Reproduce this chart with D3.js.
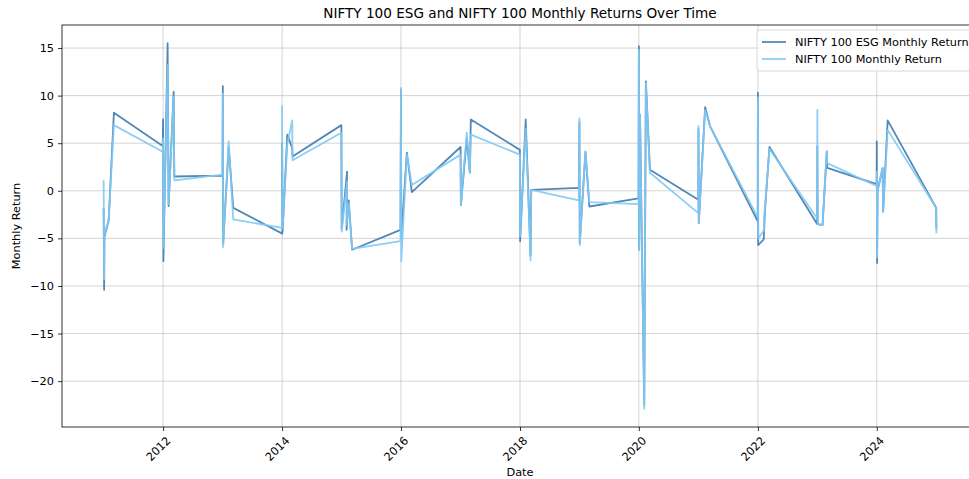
<!DOCTYPE html>
<html>
<head>
<meta charset="utf-8">
<script src="https://cdn.jsdelivr.net/npm/d3@7"></script>
<style>
  body { margin: 0; background: #fff; }
  svg { display: block; font-family: 'DejaVu Sans', sans-serif; }
</style>
</head>
<body>
<svg id="chart"></svg>
<script>
// monthly return rows, in the order they appear in the source table
const dates = [
  '2011-01-01', '2011-01-04', '2011-01-06', '2011-02-01', '2011-03-05', '2011-12-30',
  '2012-01-01', '2012-01-03', '2012-01-29', '2012-02-04', '2012-03-06', '2012-03-10', '2012-12-31',
  '2013-01-02', '2013-01-04', '2013-02-07', '2013-03-07', '2014-01-02',
  '2014-01-01', '2014-01-04', '2014-02-02', '2014-03-04', '2014-03-06', '2014-12-31',
  '2015-01-02', '2015-02-04', '2015-02-01', '2015-02-14', '2015-03-07', '2015-12-29',
  '2016-01-01', '2016-01-03', '2016-02-06', '2016-03-08', '2017-01-01',
  '2017-01-03', '2017-02-08', '2017-02-27', '2017-03-05', '2017-12-31',
  '2018-01-02', '2018-02-05', '2018-03-07', '2018-03-11', '2018-12-28',
  '2019-01-01', '2019-01-03', '2019-02-07', '2019-03-03', '2019-12-30',
  '2020-01-01', '2020-01-03', '2020-01-08', '2020-02-03', '2020-02-13', '2020-03-09', '2020-12-31',
  '2021-01-01', '2021-01-03', '2021-02-11', '2021-03-13', '2021-12-31',
  '2022-01-01', '2022-01-03', '2022-02-06', '2022-02-12', '2022-03-13', '2022-12-31',
  '2023-01-01', '2023-01-03', '2023-02-02', '2023-02-28', '2023-03-03', '2023-12-31',
  '2024-01-01', '2024-01-03', '2024-01-06', '2024-02-06', '2024-02-09', '2024-03-08', '2024-12-31', '2025-01-01'
]
const esgReturns = [
  -1.8, -10.4, -4.8, -3.1, 8.2, 4.7,
  7.5, -7.4, 15.5, -1.6, 10.4, 1.5, 1.6,
  11.0, -5.5, 4.6, -1.8, -4.5,
  5.0, -4.3, 5.9, 4.5, 3.6, 6.9,
  -4.0, 2.0, -4.1, -1.0, -6.2, -4.1,
  10.6, -5.0, 4.0, -0.15, 4.6,
  -1.5, 5.5, 1.9, 7.5, 4.3,
  -5.3, 7.5, -6.8, 0.1, 0.3,
  7.2, -5.5, 4.1, -1.65, -0.8,
  15.2, -6.2, 8.0, -22.5, 11.5, 2.2, -0.95,
  6.5, -3.4, 8.8, 6.8, -3.2,
  10.3, -5.7, -5.1, -2.4, 4.6, -3.5,
  4.7, -3.5, -3.6, 4.1, 2.4, 0.7,
  5.2, -7.6, 0.0, 2.4, -2.2, 7.4, -1.8, -4.0
]
const niftyReturns = [
  1.1, -9.3, -4.6, -3.0, 6.9, 4.1,
  5.5, -6.0, 13.2, -1.4, 9.9, 1.1, 1.7,
  10.2, -5.9, 5.2, -3.0, -3.9,
  8.9, -4.0, 4.9, 7.4, 3.2, 6.1,
  -4.3, 1.0, -3.6, -1.3, -6.1, -5.3,
  10.8, -7.4, 3.8, 0.6, 3.8,
  -1.5, 6.1, 1.9, 5.9, 3.8,
  -4.8, 6.5, -7.3, 0.1, -1.0,
  7.6, -5.7, 4.1, -1.2, -1.4,
  14.8, -6.2, 8.0, -22.9, 11.3, 1.9, -2.35,
  6.8, -3.4, 8.5, 6.8, -2.8,
  9.8, -5.0, -4.2, -2.0, 4.4, -2.9,
  8.5, -3.5, -3.6, 4.2, 2.9, 0.5,
  2.0, -7.0, 0.0, 2.4, -2.2, 6.4, -1.8, -4.45
]
const seriesNames = ['NIFTY 100 ESG Monthly Return', 'NIFTY 100 Monthly Return']
const seriesColors = ['#3f7bb0', '#7fc9f5']
const yTicks = [-20, -15, -10, -5, 0, 5, 10, 15]
const xTickYears = [2012, 2014, 2016, 2018, 2020, 2022, 2024]

const W = 969, H = 479
const margin = { top: 25, left: 62, right: -9, bottom: 52 }
const x0 = margin.left, x1 = W - margin.right
const y0 = margin.top, y1 = H - margin.bottom

const parse = d3.timeParse('%Y-%m-%d')
const rows = dates.map((d, i) => ({ date: parse(d), esg: esgReturns[i], nifty: niftyReturns[i] }))

// matplotlib style 5% padding on both axes
const pad = (ext) => { const p = (ext[1] - ext[0]) * 0.05; return [ext[0] - p, ext[1] + p] }
const tExt = d3.extent(rows, d => +d.date)
const tDom = pad(tExt)
const vDom = pad([d3.min(rows, d => Math.min(d.esg, d.nifty)), d3.max(rows, d => Math.max(d.esg, d.nifty))])

const x = d3.scaleTime().domain([new Date(tDom[0]), new Date(tDom[1])]).range([x0, x1])
const y = d3.scaleLinear().domain(vDom).range([y1, y0])

const svg = d3.select('#chart').attr('width', W).attr('height', H)
svg.append('rect').attr('width', W).attr('height', H).attr('fill', '#fff')

// grid
const grid = svg.append('g').attr('stroke', '#b0b0b0').attr('stroke-opacity', 0.55).attr('stroke-width', 1)
grid.selectAll('.gy').data(yTicks).enter().append('line')
  .attr('x1', x0).attr('x2', x1)
  .attr('y1', d => y(d)).attr('y2', d => y(d))
grid.selectAll('.gx').data(xTickYears).enter().append('line')
  .attr('x1', d => x(new Date(d, 0, 1))).attr('x2', d => x(new Date(d, 0, 1)))
  .attr('y1', y0).attr('y2', y1)

// lines
const plot = svg.append('g')
const keys = ['esg', 'nifty']
keys.forEach((k, i) => {
  plot.append('path')
    .datum(rows)
    .attr('fill', 'none')
    .attr('stroke', seriesColors[i])
    .attr('stroke-opacity', 0.9)
    .attr('stroke-width', 1.8)
    .attr('stroke-linejoin', 'round')
    .attr('d', d3.line().x(d => x(d.date)).y(d => y(d[k])))
})

// axes
const yAxis = svg.append('g').attr('transform', `translate(${x0},0)`)
  .call(d3.axisLeft(y).tickValues(yTicks).tickSize(4).tickPadding(4).tickFormat(d => d < 0 ? '\u2212' + Math.abs(d) : d))
yAxis.select('.domain').remove()
yAxis.selectAll('text').attr('font-size', 11.3).attr('fill', '#000').attr('font-family', 'DejaVu Sans')
yAxis.selectAll('line').attr('stroke', '#000').attr('stroke-width', 0.8)

const xAxis = svg.append('g').attr('transform', `translate(0,${y1})`)
  .call(d3.axisBottom(x).tickValues(xTickYears.map(yr => new Date(yr, 0, 1))).tickSize(4).tickFormat(d3.timeFormat('%Y')))
xAxis.select('.domain').remove()
xAxis.selectAll('line').attr('stroke', '#000').attr('stroke-width', 0.8)
xAxis.selectAll('text')
  .attr('font-size', 11.3).attr('fill', '#000').attr('font-family', 'DejaVu Sans')
  .attr('text-anchor', 'middle').attr('dy', null).attr('y', 0)
  .attr('dominant-baseline', 'central')
  .attr('transform', 'translate(-5,22) rotate(-45)')

svg.append('rect')
  .attr('x', x0).attr('y', y0).attr('width', x1 - x0).attr('height', y1 - y0)
  .attr('fill', 'none').attr('stroke', '#000').attr('stroke-width', 0.8)

// labels
svg.append('text').attr('x', (x0 + x1) / 2).attr('y', 18).attr('text-anchor', 'middle')
  .attr('font-size', 13.6).text('NIFTY 100 ESG and NIFTY 100 Monthly Returns Over Time')
svg.append('text').attr('x', (x0 + x1) / 2).attr('y', 476).attr('text-anchor', 'middle')
  .attr('font-size', 11.3).text('Date')
svg.append('text').attr('transform', `translate(20,${(y0 + y1) / 2}) rotate(-90)`).attr('text-anchor', 'middle')
  .attr('font-size', 11.3).text('Monthly Return')

// legend
const leg = svg.append('g').attr('transform', 'translate(757,30)')
leg.append('rect').attr('width', 240).attr('height', 41).attr('rx', 3)
  .attr('fill', '#fff').attr('fill-opacity', 0.8).attr('stroke', '#d0d0d0').attr('stroke-width', 0.8)
seriesNames.forEach((name, i) => {
  const g = leg.append('g').attr('transform', `translate(0,${12 + i * 17})`)
  g.append('line').attr('x1', 5).attr('x2', 29).attr('y1', 0).attr('y2', 0)
    .attr('stroke', seriesColors[i]).attr('stroke-width', 1.8).attr('stroke-opacity', 0.9)
  g.append('text').attr('x', 38).attr('y', 0).attr('dominant-baseline', 'central')
    .attr('font-size', 11.3).text(name)
})
</script>
</body>
</html>
